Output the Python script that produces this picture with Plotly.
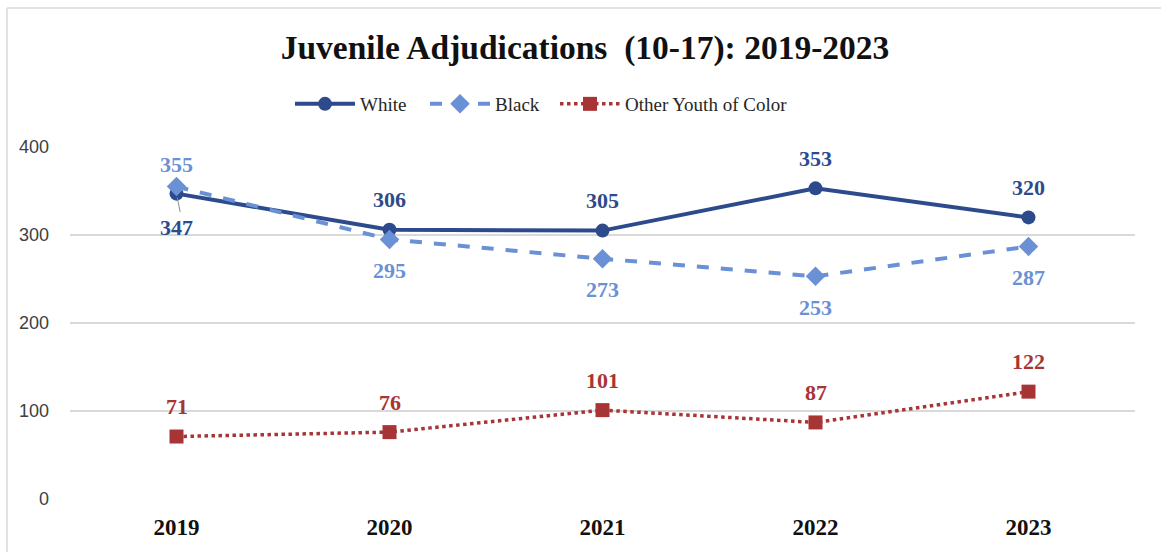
import plotly.graph_objects as go

years = ["2019", "2020", "2021", "2022", "2023"]
white = [347, 306, 305, 353, 320]
black = [355, 295, 273, 253, 287]
other = [71, 76, 101, 87, 122]

# label offset from the point, in pixels (+ above, - below)
white_shift = [-34, 30, 30, 30, 30]
black_shift = [22, -31, -31, -31, -31]
other_shift = [30, 30, 30, 30, 30]

C_WHITE = "#2D4B8C"
C_BLACK = "#6A90D6"
C_OTHER = "#A83535"

W, H = 1161, 552
L, R, T, B = 70, 26, 147, 53
pw, ph = W - L - R, H - T - B

fig = go.Figure()
fig.add_trace(go.Scatter(
    x=years, y=white, name="White", mode="lines+markers", legend="legend",
    line=dict(color=C_WHITE, width=4),
    marker=dict(symbol="circle", size=14, color=C_WHITE),
))
fig.add_trace(go.Scatter(
    x=years, y=black, name="Black", mode="lines+markers", legend="legend2",
    line=dict(color=C_BLACK, width=4, dash="dash"),
    marker=dict(symbol="diamond", size=15, color=C_BLACK),
))
fig.add_trace(go.Scatter(
    x=years, y=other, name="Other Youth of Color", mode="lines+markers",
    legend="legend3",
    line=dict(color=C_OTHER, width=3.5, dash="dot"),
    marker=dict(symbol="square", size=14, color=C_OTHER),
))

# value labels (category axis: annotations are placed by category index)
annotations = []
for vals, shifts, col in ((white, white_shift, C_WHITE),
                          (black, black_shift, C_BLACK),
                          (other, other_shift, C_OTHER)):
    for i, (v, s) in enumerate(zip(vals, shifts)):
        annotations.append(dict(
            x=i, y=v, text="<b>%d</b>" % v, showarrow=False,
            yshift=s, xanchor="center", yanchor="middle",
            font=dict(family="Liberation Serif", size=22, color=col),
        ))
# thin leader from the 2019 White label to its point
annotations.append(dict(
    x=0, y=white[0], ax=4, ay=20, axref="pixel", ayref="pixel",
    text="", showarrow=True, arrowhead=0, arrowwidth=1, arrowcolor="#8C8C8C",
    standoff=4,
))

def px_x(p):
    return (p - L) / pw

def px_y(p):
    return (H - B - p) / ph

shapes = [
    dict(type="line", xref="paper", yref="paper",
         x0=px_x(7), x1=px_x(W + 5), y0=px_y(8), y1=px_y(8),
         line=dict(color="#D9D9D9", width=1.5)),
    dict(type="line", xref="paper", yref="paper",
         x0=px_x(7), x1=px_x(7), y0=px_y(8), y1=px_y(H + 5),
         line=dict(color="#D9D9D9", width=1.5)),
]

def legend_at(px_left):
    return dict(
        orientation="h", x=px_x(px_left), xanchor="left",
        y=px_y(104), yanchor="middle",
        font=dict(family="Liberation Serif", size=19, color="#262626"),
        itemwidth=60, bgcolor="rgba(0,0,0,0)",
    )

fig.update_layout(
    width=W, height=H,
    margin=dict(l=L, r=R, t=T, b=B),
    paper_bgcolor="white", plot_bgcolor="white",
    title=dict(
        text="<b>Juvenile Adjudications  (10-17): 2019-2023</b>",
        x=px_x(585), xanchor="center", xref="paper",
        y=1 - 47 / H, yanchor="middle",
        font=dict(family="Liberation Serif", size=33.5, color="#111111"),
    ),
    legend=legend_at(290),
    legend2=legend_at(425),
    legend3=legend_at(555),
    xaxis=dict(
        type="category", range=[-0.5, 4.5], showgrid=False,
        showline=False, zeroline=False, ticks="",
        tickfont=dict(family="Liberation Serif", size=23, color="#111111"),
        ticklabelstandoff=12,
        tickprefix="<b>", ticksuffix="</b>",
    ),
    yaxis=dict(
        range=[0, 400], tickvals=[0, 100, 200, 300, 400],
        showgrid=True, gridcolor="#D9D9D9", gridwidth=1.5,
        zeroline=False, showline=False, ticks="",
        tickfont=dict(family="Liberation Sans", size=18, color="#404040"),
        ticklabelstandoff=20,
    ),
    annotations=annotations,
    shapes=shapes,
    showlegend=True,
)
fig.update_traces(cliponaxis=False)

fig.write_html("out.html")
